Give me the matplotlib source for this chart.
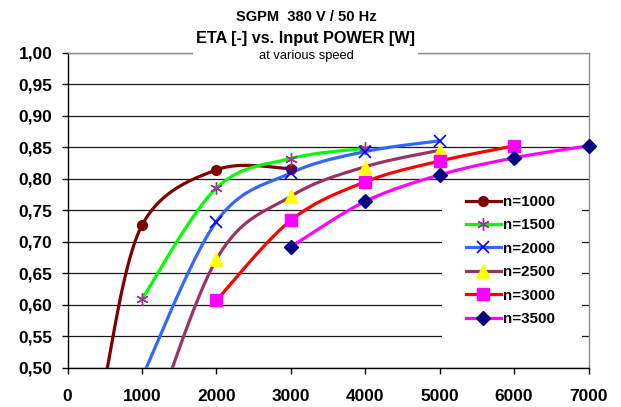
import numpy as np
import matplotlib
matplotlib.use("Agg")
import matplotlib.pyplot as plt
from matplotlib.lines import Line2D
from matplotlib.patches import Rectangle

plt.rcParams['font.family'] = ['Liberation Sans', 'DejaVu Sans']

# input power [W] and efficiency per speed; first point of some series lies below the axis
power_1000 = [500, 1000, 2000, 3000]
eta_1000 = [0.48, 0.726, 0.814, 0.816]
power_1500 = [1000, 2000, 3000, 4000]
eta_1500 = [0.609, 0.785, 0.832, 0.848]
power_2000 = [1000, 2000, 3000, 4000, 5000]
eta_2000 = [0.485, 0.732, 0.809, 0.843, 0.860]
power_2500 = [1000, 2000, 3000, 4000, 5000]
eta_2500 = [0.36, 0.672, 0.772, 0.819, 0.845]
power_3000 = [2000, 3000, 4000, 5000, 6000]
eta_3000 = [0.607, 0.734, 0.795, 0.828, 0.852]
power_3500 = [3000, 4000, 5000, 6000, 7000]
eta_3500 = [0.692, 0.764, 0.806, 0.833, 0.852]

labels = ['n=1000', 'n=1500', 'n=2000', 'n=2500', 'n=3000', 'n=3500']
y_ticks = [0.50, 0.55, 0.60, 0.65, 0.70, 0.75, 0.80, 0.85, 0.90, 0.95, 1.00]
x_ticks = [0, 1000, 2000, 3000, 4000, 5000, 6000, 7000]


def smooth(xs, ys, steps=40):
    # parametric Catmull-Rom, like the "smoothed line" option in spreadsheets
    p = np.column_stack([xs, ys]).astype(float)
    pts = np.vstack([p[0], p, p[-1]])
    out = []
    for i in range(1, len(pts) - 2):
        p0, p1, p2, p3 = pts[i - 1], pts[i], pts[i + 1], pts[i + 2]
        m1 = (p2 - p0) / 2
        m2 = (p3 - p1) / 2
        t = np.linspace(0, 1, steps)[:, None]
        h00 = 2 * t**3 - 3 * t**2 + 1
        h10 = t**3 - 2 * t**2 + t
        h01 = -2 * t**3 + 3 * t**2
        h11 = t**3 - t**2
        out.append(h00 * p1 + h10 * m1 + h01 * p2 + h11 * m2)
    c = np.vstack(out)
    return c[:, 0], c[:, 1]


series = [
    (power_1000, eta_1000, dict(color='#800000'),
     dict(marker='o', ms=7, mfc='#800000', mec='#800000')),
    (power_1500, eta_1500, dict(color='#00FF00'),
     dict(marker=(6, 2, 0), ms=9, mfc='#993399', mec='#993399', mew=1)),
    (power_2000, eta_2000, dict(color='#3366FF'),
     dict(marker='x', ms=8, mfc='#0000FF', mec='#0000FF', mew=1.2)),
    (power_2500, eta_2500, dict(color='#993366'),
     dict(marker='^', ms=10, mfc='#FFFF00', mec='#FFFF00', mew=0.5)),
    (power_3000, eta_3000, dict(color='#FF0000'),
     dict(marker='s', ms=8.5, mfc='#FF00FF', mec='#FF00FF')),
    (power_3500, eta_3500, dict(color='#FF00FF'),
     dict(marker='D', ms=7, mfc='#000080', mec='#000080')),
]

W, H = 621, 407
ax_l, ax_b, ax_w, ax_h = 67.5, 368, 521, 315.5

fig = plt.figure(figsize=(W / 100, H / 100), dpi=100)
ax = fig.add_axes([ax_l / W, 1 - ax_b / H, ax_w / W, ax_h / H])

handles = []
for (xs, ys, line_kw, mark_kw), lab in zip(series, labels):
    sx, sy = smooth(xs, ys)
    ax.plot(sx, sy, lw=2.3, solid_capstyle='round', zorder=3, **line_kw)
    vis = [(x, y) for x, y in zip(xs, ys) if y >= 0.5]
    ax.plot([v[0] for v in vis], [v[1] for v in vis], ls='none', zorder=4,
            clip_on=False, **mark_kw)
    handles.append(Line2D([], [], lw=2.3, **line_kw, **mark_kw))

ax.set_xlim(0, 7000)
ax.set_ylim(0.5, 1.0)
ax.set_xticks(x_ticks)
ax.set_xticklabels([str(v) for v in x_ticks])
ax.set_yticks(y_ticks)
ax.set_yticklabels([f"{v:.2f}".replace('.', ',') for v in y_ticks])
for lab in ax.get_xticklabels() + ax.get_yticklabels():
    lab.set_fontweight('bold')
    lab.set_fontsize(12.5)
ax.tick_params(axis='y', direction='out', length=4.3, width=1, pad=6.5)
ax.tick_params(axis='x', direction='out', length=4.3, width=1, pad=11)

ax.set_axisbelow(True)
ax.yaxis.grid(True, color='#1a1a1a', lw=0.9)
ax.xaxis.grid(False)
for side in ['left', 'bottom']:
    ax.spines[side].set_color('black')
    ax.spines[side].set_linewidth(1)
for side in ['top', 'right']:
    ax.spines[side].set_color('#8c8c8c')
    ax.spines[side].set_linewidth(1)


def to_axes(px, py):
    return (px - ax_l) / ax_w, (ax_b - py) / ax_h


# white legend area over the gridlines
x0, y0 = to_axes(442, 338)
x1, y1 = to_axes(582, 185)
ax.add_patch(Rectangle((x0, y0), x1 - x0, y1 - y0, transform=ax.transAxes,
                       facecolor='white', edgecolor='none', zorder=2))

leg = ax.legend(handles, labels, loc='upper left',
                bbox_to_anchor=to_axes(466, 195),
                prop=dict(family='Liberation Sans', weight='bold', size=10.9),
                numpoints=1, handlelength=2.3, handletextpad=0.15,
                labelspacing=0.62, borderpad=0, borderaxespad=0,
                frameon=False)
leg.set_zorder(5)

# white band behind the title hides the top border there
fig.add_artist(Rectangle((193 / W, 1 - 62 / H), 225 / W, 62 / H,
                         transform=fig.transFigure, facecolor='white',
                         edgecolor='none', zorder=2))
tx = 306 / W
fig.text(tx, 1 - 16.7 / H, 'SGPM  380 V / 50 Hz', ha='center', va='center',
         fontsize=10.5, fontweight='bold', zorder=3)
fig.text(tx, 1 - 39 / H, 'ETA [-] vs. Input POWER [W]', ha='center',
         va='center', fontsize=11.7, fontweight='bold', zorder=3)
fig.text(tx, 1 - 56 / H, 'at various speed', ha='center', va='center',
         fontsize=9.3, zorder=3)

fig.savefig('out.png', dpi=100)
